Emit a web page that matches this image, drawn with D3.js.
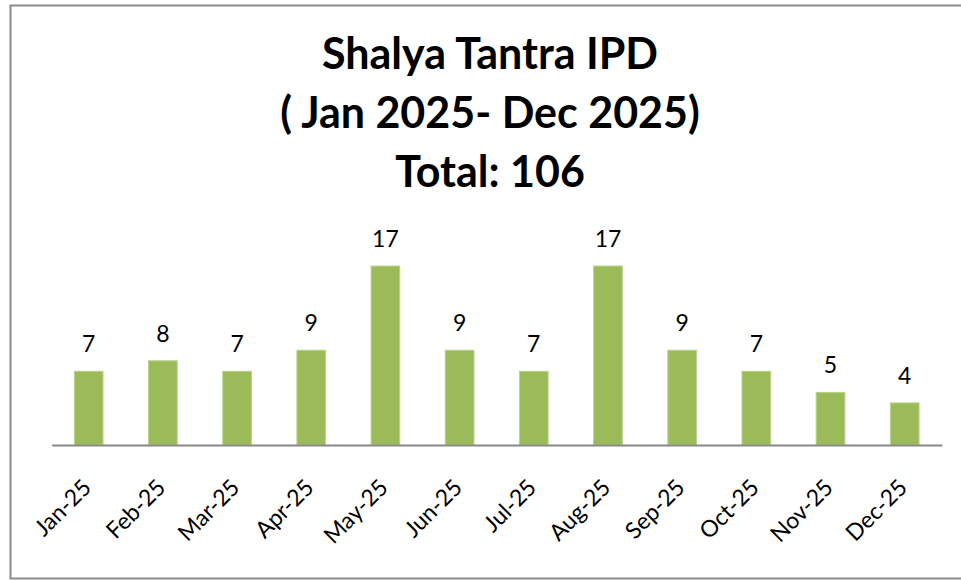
<!DOCTYPE html>
<html>
<head>
<meta charset="utf-8">
<script src="https://cdn.jsdelivr.net/npm/d3@7"></script>
<style>
  body { margin: 0; background: #fff; }
  svg { display: block; font-family: Lato, "Open Sans", sans-serif; }
</style>
</head>
<body>
<svg id="chart"></svg>
<script>
// data
var months = ['Jan-25', 'Feb-25', 'Mar-25', 'Apr-25', 'May-25', 'Jun-25',
              'Jul-25', 'Aug-25', 'Sep-25', 'Oct-25', 'Nov-25', 'Dec-25']
var patients = [7, 8, 7, 9, 17, 9, 7, 17, 9, 7, 5, 4]
var titleLines = ['Shalya Tantra IPD', '( Jan 2025- Dec 2025)', 'Total: 106']

var width = 961, height = 581
var colorBar = '#9BBB59'
var colorBarEdge = '#B9D28C'
var colorAxis = '#888888'

var svg = d3.select('#chart').attr('width', width).attr('height', height)

// chart frame
svg.append('rect')
    .attr('x', 10.5).attr('y', 5.5)
    .attr('width', 960).attr('height', 573)
    .attr('fill', '#fff')
    .attr('stroke', '#8c8c8c')
    .attr('stroke-width', 2)

// title
svg.append('text')
    .attr('text-anchor', 'middle')
    .style('font-weight', 700)
    .style('font-size', '43px')
    .selectAll('tspan')
    .data(titleLines)
    .enter().append('tspan')
    .attr('x', 490)
    .attr('y', function (d, i) { return 69 + i * 59 })
    .text(function (d) { return d })

var x = d3.scaleBand()
    .domain(months)
    .range([51.6, 941.8])
    .paddingInner(0.6)
    .paddingOuter(0.3)

var y = d3.scaleLinear()
    .domain([0, 18])
    .range([445, 255.5])

// bars
svg.append('g')
    .selectAll('rect')
    .data(patients)
    .enter().append('rect')
    .attr('x', function (d, i) { return x(months[i]) + 0.5 })
    .attr('y', function (d) { return y(d) })
    .attr('width', x.bandwidth() - 1)
    .attr('height', function (d) { return y(0) - y(d) })
    .attr('fill', colorBar)
    .attr('stroke', colorBarEdge)
    .attr('stroke-width', 1)

// value labels
svg.append('g')
    .selectAll('text')
    .data(patients)
    .enter().append('text')
    .attr('x', function (d, i) { return x(months[i]) + x.bandwidth() / 2 })
    .attr('y', function (d) { return y(d) - 19 })
    .attr('text-anchor', 'middle')
    .style('font-size', '23px')
    .attr('fill', '#000')
    .text(function (d) { return d })

// x axis
var xAxis = svg.append('g')
    .attr('transform', 'translate(0,445)')
    .call(d3.axisBottom(x).tickSize(0).tickSizeOuter(0))

xAxis.select('.domain')
    .attr('stroke', colorAxis)
    .attr('stroke-width', 2)

xAxis.selectAll('.tick text')
    .attr('fill', '#000')
    .style('font-size', '23px')
    .style('font-family', 'Lato, "Open Sans", sans-serif')
    .attr('text-anchor', 'end')
    .attr('x', 0).attr('y', 0).attr('dy', 0)
    .attr('transform', 'translate(4,44) rotate(-45)')
</script>
</body>
</html>
